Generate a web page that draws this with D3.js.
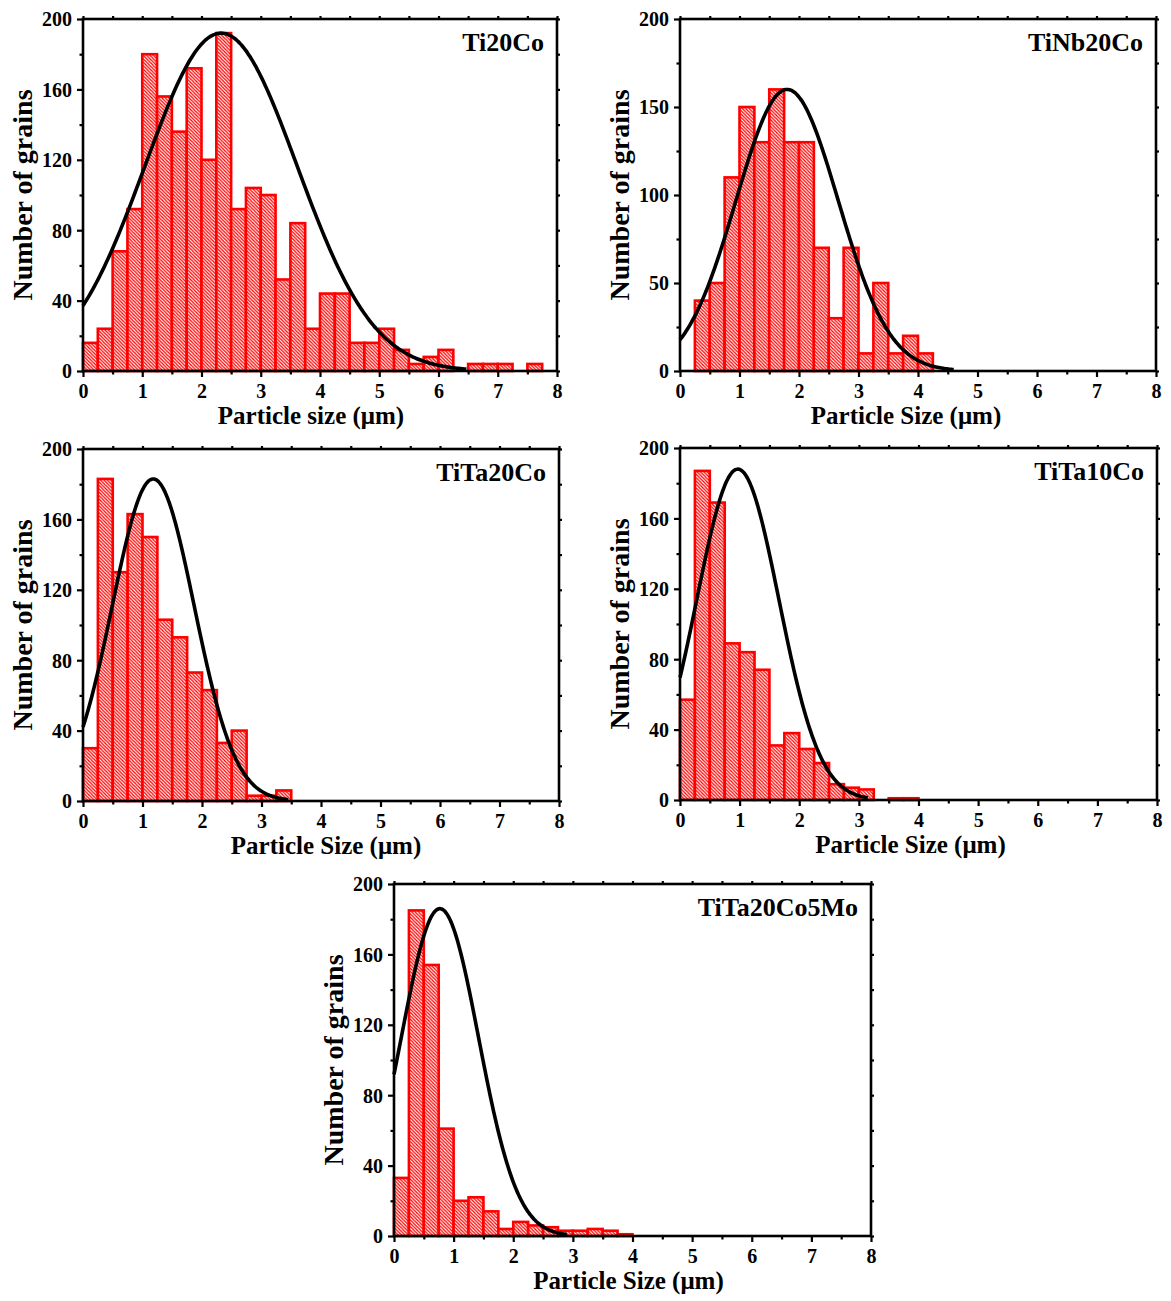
<!DOCTYPE html>
<html>
<head>
<meta charset="utf-8">
<script src="https://cdn.jsdelivr.net/npm/d3@7"></script>
<style>
  html, body { margin: 0; padding: 0; background: #fff; }
  svg { display: block; }
  text { font-family: "Liberation Serif", "Times New Roman", serif; font-weight: bold; fill: #000; }
</style>
</head>
<body>
<svg id="chart" width="1171" height="1301"></svg>
<script>
// ---------------- DATA ----------------
const binWidth = 0.25;            // µm per histogram bin, bins start at 0
const xTicks = [0, 1, 2, 3, 4, 5, 6, 7, 8];

const sampleNames = ["Ti20Co", "TiNb20Co", "TiTa20Co", "TiTa10Co", "TiTa20Co5Mo"];
const xAxisTitles = ["Particle size (\u03bcm)", "Particle Size (\u03bcm)", "Particle Size (\u03bcm)", "Particle Size (\u03bcm)", "Particle Size (\u03bcm)"];
const yAxisTitle = "Number of grains";

const countsTi20Co     = [16, 24, 68, 92, 180, 156, 136, 172, 120, 192, 92, 104, 100, 52, 84, 24, 44, 44, 16, 16, 24, 12, 4, 8, 12, 0, 4, 4, 4, 0, 4];
const countsTiNb20Co   = [0, 40, 50, 110, 150, 130, 160, 130, 130, 70, 30, 70, 10, 50, 10, 20, 10];
const countsTiTa20Co   = [30, 183, 130, 163, 150, 103, 93, 73, 63, 33, 40, 3, 3, 6];
const countsTiTa10Co   = [57, 187, 169, 89, 84, 74, 31, 38, 29, 21, 9, 7, 6, 0, 1, 1];
const countsTiTa20Co5Mo = [33, 185, 154, 61, 20, 22, 14, 4, 8, 6, 5, 3, 3, 4, 3, 1];

// Gaussian (normal) fit parameters
const fitCenter = [2.33, 1.80, 1.18, 0.97, 0.77];
const fitSigma  = [1.285, 0.858, 0.688, 0.688, 0.648];
const fitPeak   = [192, 160, 183, 188, 186];
const fitEnd    = [6.47, 4.6, 3.45, 3.15, 2.9];

const yMajorTicks = [
  [0, 40, 80, 120, 160, 200],
  [0, 50, 100, 150, 200],
  [0, 40, 80, 120, 160, 200],
  [0, 40, 80, 120, 160, 200],
  [0, 40, 80, 120, 160, 200]
];
const yMinorTicks = [
  [20, 60, 100, 140, 180],
  [25, 75, 125, 175],
  [20, 60, 100, 140, 180],
  [20, 60, 100, 140, 180],
  [20, 60, 100, 140, 180]
];
const allCounts = [countsTi20Co, countsTiNb20Co, countsTiTa20Co, countsTiTa10Co, countsTiTa20Co5Mo];

// ---------------- LAYOUT ----------------
const panels = [
  { left: 83,  top: 19,  w: 474, h: 352, xLabDx: -9 },
  { left: 680, top: 19,  w: 476, h: 352, xLabDx: -12 },
  { left: 83,  top: 449, w: 476, h: 352, xLabDx: 5 },
  { left: 680, top: 448, w: 477, h: 352, xLabDx: -8 },
  { left: 394, top: 884, w: 477, h: 352, xLabDx: -4 }
];

const svg = d3.select("#chart");
const defs = svg.append("defs");
const pat = defs.append("pattern")
  .attr("id", "hatch")
  .attr("patternUnits", "userSpaceOnUse")
  .attr("width", 3.4).attr("height", 3.4);
pat.append("rect").attr("width", 3.4).attr("height", 3.4).attr("fill", "#fff");
pat.append("path")
  .attr("d", "M0,0 L3.4,3.4 M-1,2.4 L1,4.4 M2.4,-1 L4.4,1")
  .attr("stroke", "#ff0000").attr("stroke-width", 1.3);

panels.forEach((p, i) => {
  const g = svg.append("g").attr("transform", `translate(${p.left},${p.top})`);
  const x = d3.scaleLinear().domain([0, 8]).range([0, p.w]);
  const y = d3.scaleLinear().domain([0, 200]).range([p.h, 0]);
  const counts = allCounts[i];

  // bars
  const bins = counts.map((c, k) => ({ x0: k * binWidth, x1: (k + 1) * binWidth, c }));
  g.append("g").selectAll("rect")
    .data(bins.filter(d => d.c > 0))
    .join("rect")
    .attr("x", d => x(d.x0))
    .attr("width", d => x(d.x1) - x(d.x0))
    .attr("y", d => y(d.c))
    .attr("height", d => y(0) - y(d.c))
    .attr("fill", "url(#hatch)")
    .attr("stroke", "#ff0000")
    .attr("stroke-width", 2.6);

  // Gaussian fit curve
  const n = 200;
  const pts = d3.range(n + 1).map(k => {
    const xv = fitEnd[i] * k / n;
    return [xv, fitPeak[i] * Math.exp(-Math.pow(xv - fitCenter[i], 2) / (2 * fitSigma[i] * fitSigma[i]))];
  });
  g.append("path")
    .datum(pts)
    .attr("d", d3.line().x(d => x(d[0])).y(d => y(d[1])).curve(d3.curveBasis))
    .attr("fill", "none")
    .attr("stroke", "#000")
    .attr("stroke-width", 3.6);

  // axes
  const xMinor = d3.range(0.5, 8, 1);
  const axB = g.append("g").attr("transform", `translate(0,${p.h})`)
    .call(d3.axisBottom(x).tickValues(xTicks).tickSize(6).tickSizeOuter(0).tickPadding(7).tickFormat(d3.format("d")));
  const axBm = g.append("g").attr("transform", `translate(0,${p.h})`)
    .call(d3.axisBottom(x).tickValues(xMinor).tickSize(3.5).tickSizeOuter(0).tickFormat(""));
  const axT = g.append("g")
    .call(d3.axisTop(x).tickValues(xTicks.concat(xMinor)).tickSize(3).tickSizeOuter(0).tickFormat(""));
  const axL = g.append("g")
    .call(d3.axisLeft(y).tickValues(yMajorTicks[i]).tickSize(6).tickSizeOuter(0).tickPadding(5));
  const axLm = g.append("g")
    .call(d3.axisLeft(y).tickValues(yMinorTicks[i]).tickSize(3.5).tickSizeOuter(0).tickFormat(""));
  const axR = g.append("g").attr("transform", `translate(${p.w},0)`)
    .call(d3.axisRight(y).tickValues(yMajorTicks[i].concat(yMinorTicks[i])).tickSize(3).tickSizeOuter(0).tickFormat(""));

  [axB, axBm, axT, axL, axLm, axR].forEach(a => {
    a.select(".domain").remove();
    a.selectAll(".tick line").attr("stroke", "#000").attr("stroke-width", 2.2);
    a.selectAll(".tick text")
      .attr("font-family", "'Liberation Serif', 'Times New Roman', serif")
      .attr("font-weight", "bold")
      .attr("font-size", 20)
      .attr("fill", "#000");
  });
  axB.selectAll(".tick text").attr("dy", "0.7em");
  axL.selectAll(".tick text").attr("dy", "0.34em");

  // frame
  g.append("rect")
    .attr("x", 0).attr("y", 0).attr("width", p.w).attr("height", p.h)
    .attr("fill", "none").attr("stroke", "#000").attr("stroke-width", 2.6);

  // sample title
  g.append("text")
    .attr("x", p.w - 13).attr("y", 32)
    .attr("text-anchor", "end")
    .attr("font-size", 26)
    .text(sampleNames[i]);

  // x-axis title
  g.append("text")
    .attr("x", p.w / 2 + p.xLabDx).attr("y", p.h + 53)
    .attr("text-anchor", "middle")
    .attr("font-size", 25)
    .text(xAxisTitles[i]);

  // y-axis title
  g.append("text")
    .attr("transform", `translate(-51,${p.h / 2}) rotate(-90)`)
    .attr("text-anchor", "middle")
    .attr("font-size", 28)
    .text(yAxisTitle);
});
</script>
</body>
</html>
